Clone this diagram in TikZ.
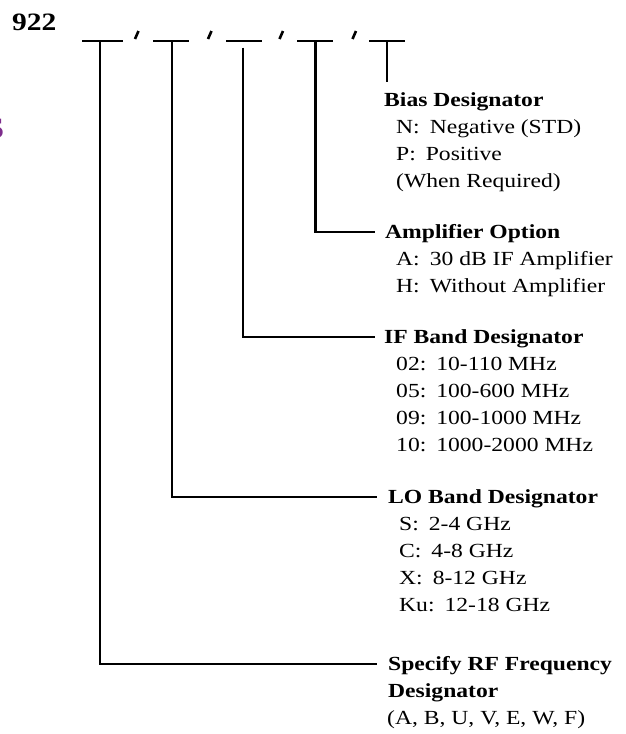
\documentclass[tikz,border=0pt]{standalone}
\usepackage{fontspec}
\setmainfont[FakeStretch=1.18]{Liberation Serif}
\definecolor{logopurple}{RGB}{125,45,140}
\begin{document}
\begin{tikzpicture}[x=1pt,y=-1pt,
  conn/.style={line width=2.6pt, line join=miter, line cap=butt},
  barline/.style={line width=2.6pt, line cap=butt},
  slashmark/.style={line width=2.6pt, line cap=butt},
  head/.style={anchor=base west, inner sep=0pt, font=\fontsize{20}{24}\selectfont\bfseries},
  item/.style={anchor=base west, inner sep=0pt, font=\fontsize{20}{24}\selectfont},
  partno/.style={anchor=base west, inner sep=0pt, font=\fontsize{25}{30}\selectfont\bfseries},
  logo/.style={anchor=base east, inner sep=0pt, text=logopurple, font=\fontsize{30}{36}\selectfont\bfseries}]
\useasboundingbox (0,0) rectangle (626,734);

\node[partno] (pn) at (12,30) {922};
\node[logo] (lg) at (4.5,138) {S};

% top bars and slashes
\draw[barline] (82,41) -- (123,41);
\draw[barline] (153,41) -- (189,41);
\draw[barline] (226,41) -- (262,41);
\draw[barline] (297,41) -- (333,41);
\draw[barline] (369,41) -- (405,41);
\draw[slashmark] (135,39) -- (138.5,31);
\draw[slashmark] (208,39) -- (211.5,31);
\draw[slashmark] (279.5,39) -- (283,31);
\draw[slashmark] (352.5,39) -- (356,31);

\coordinate (t1) at (100,41);
\coordinate (t2) at (172,41);
\coordinate (t3) at (243,47.5);
\coordinate (t4) at (315.5,41);
\coordinate (t5) at (387,41);
\coordinate (e5) at (387,82);

% headings
\node[head] (bias) at (384,106.7) {Bias Designator};
\node[head] (amp) at (385,238.5) {Amplifier Option};
\node[head] (ifb) at (384,343.5) {IF Band Designator};
\node[head] (lob) at (388,503.5) {LO Band Designator};
\node[head] (rf) at (388,670.5) {Specify RF Frequency};

% items
\node[item] (bn) at (396,133.7) {N:\hspace{0.5em}Negative (STD)};
\node[item] (bp) at (396,160.7) {P:\hspace{0.5em}Positive};
\node[item] (bw) at (396,187.7) {(When Required)};

\node[item] (aa) at (396,265.5) {A:\hspace{0.5em}30 dB IF Amplifier};
\node[item] (ah) at (396,292.5) {H:\hspace{0.5em}Without Amplifier};

\node[item] (i02) at (396,370.5) {02:\hspace{0.5em}10-110 MHz};
\node[item] (i05) at (396,397.5) {05:\hspace{0.5em}100-600 MHz};
\node[item] (i09) at (396,424.5) {09:\hspace{0.5em}100-1000 MHz};
\node[item] (i10) at (396,451.5) {10:\hspace{0.5em}1000-2000 MHz};

\node[item] (ls) at (399,530.5) {S:\hspace{0.5em}2-4 GHz};
\node[item] (lc) at (399,557.5) {C:\hspace{0.5em}4-8 GHz};
\node[item] (lx) at (399,584.5) {X:\hspace{0.5em}8-12 GHz};
\node[item] (lk) at (399,611.5) {Ku:\hspace{0.5em}12-18 GHz};

\node[head] (rf2) at (388,697.5) {Designator};
\node[item] (rfl) at (387,724.5) {(A, B, U, V, E, W, F)};

% connectors
\draw[conn] (t5) -- (e5);
\draw[conn] (t4) |- ([xshift=-10pt,yshift=6.5pt]amp.base west);
\draw[conn] (t3) |- ([xshift=-9pt,yshift=6.5pt]ifb.base west);
\draw[conn] (t2) |- ([xshift=-11pt,yshift=6.5pt]lob.base west);
\draw[conn] (t1) |- ([xshift=-11pt,yshift=6.5pt]rf.base west);
\end{tikzpicture}
\end{document}
